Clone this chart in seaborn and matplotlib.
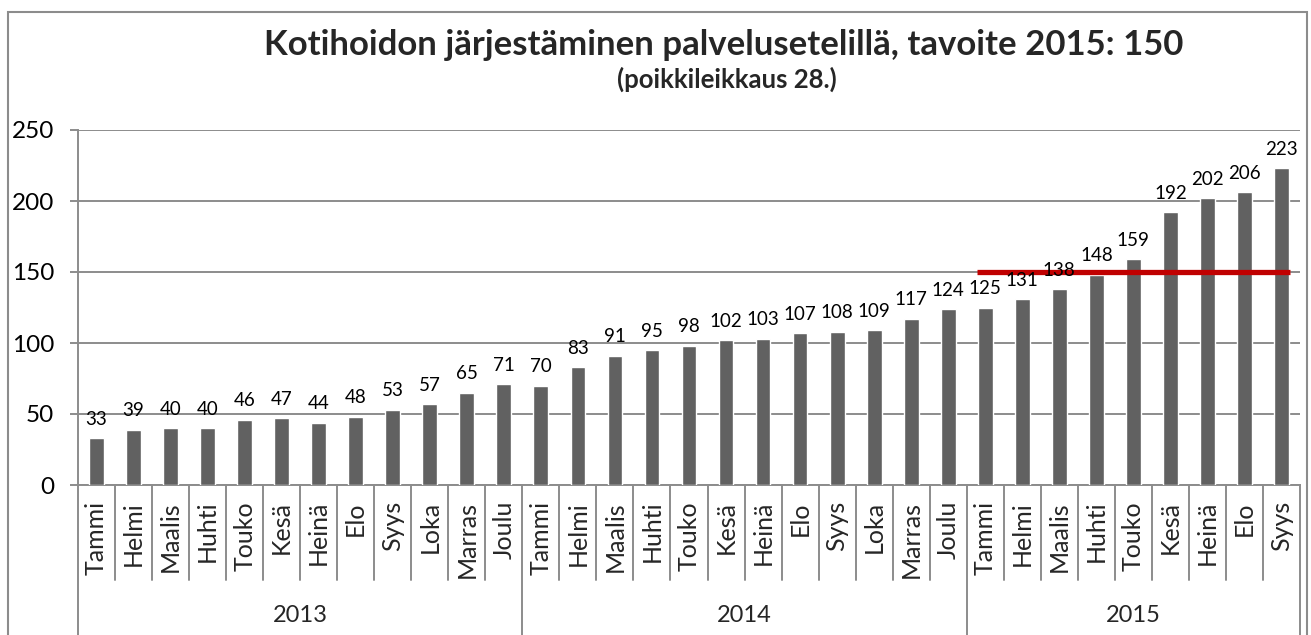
import matplotlib
matplotlib.use("Agg")
import matplotlib.pyplot as plt
import matplotlib.transforms as mtransforms
from matplotlib.patches import Rectangle
import seaborn as sns
import pandas as pd

years = ["2013", "2014", "2015"]
months_2013 = ["Tammi", "Helmi", "Maalis", "Huhti", "Touko", "Kesä", "Heinä", "Elo", "Syys", "Loka", "Marras", "Joulu"]
months_2014 = ["Tammi", "Helmi", "Maalis", "Huhti", "Touko", "Kesä", "Heinä", "Elo", "Syys", "Loka", "Marras", "Joulu"]
months_2015 = ["Tammi", "Helmi", "Maalis", "Huhti", "Touko", "Kesä", "Heinä", "Elo", "Syys"]
values_2013 = [33, 39, 40, 40, 46, 47, 44, 48, 53, 57, 65, 71]
values_2014 = [70, 83, 91, 95, 98, 102, 103, 107, 108, 109, 117, 124]
values_2015 = [125, 131, 138, 148, 159, 192, 202, 206, 223]
target_2015 = 150
title = "Kotihoidon järjestäminen palvelusetelillä, tavoite 2015: 150"
subtitle = "(poikkileikkaus 28.)"

month_groups = [months_2013, months_2014, months_2015]
value_groups = [values_2013, values_2014, values_2015]
rows = []
for yr, ms, vs in zip(years, month_groups, value_groups):
    for m, v in zip(ms, vs):
        rows.append({"year": yr, "month": m, "key": f"{yr}-{m}", "value": v})
df = pd.DataFrame(rows)

sns.set_theme(style="white")
plt.rcParams["font.family"] = ["Lato", "DejaVu Sans"]

W, H = 1311, 635
fig = plt.figure(figsize=(W / 100, H / 100), dpi=100)
ax_l, ax_r, ax_t, ax_b = 78, 1300, 130, 485
ax = fig.add_axes([ax_l / W, (H - ax_b) / H, (ax_r - ax_l) / W, (ax_b - ax_t) / H])

bar_color = "#616161"
grid_color = "#8c8c8c"
axis_fs = 18

sns.barplot(data=df, x="key", y="value", color=bar_color, width=0.4,
            saturation=1, ax=ax, zorder=3)

n = len(df)
ax.set_xlim(-0.5, n - 0.5)
ax.set_ylim(0, 250)
ax.set_yticks([0, 50, 100, 150, 200, 250])
ax.yaxis.grid(True, color=grid_color, linewidth=1.4, zorder=0)
ax.set_axisbelow(True)
for s in ["top", "right"]:
    ax.spines[s].set_visible(False)
for s in ["left", "bottom"]:
    ax.spines[s].set_color(grid_color)
    ax.spines[s].set_linewidth(1.4)
ax.tick_params(axis="y", which="major", left=True, length=6, width=1.4,
               color=grid_color, labelsize=17.5, pad=11, labelcolor="black")
ax.set_xticks([])
ax.set_xlabel("")
ax.set_ylabel("")

# value labels above each bar
for i, v in enumerate(df["value"]):
    ax.annotate(str(v), (i, v), xytext=(0, 7.5), textcoords="offset points",
                ha="center", va="bottom", fontsize=13.5, color="black", zorder=5)

# 2015 target line, running slightly past the first and last bar centres
idx_2015 = df.index[df["year"] == "2015"]
pad = 0.22
sns.lineplot(x=[idx_2015[0] - pad, idx_2015[-1] + pad],
             y=[target_2015, target_2015],
             color="#c00000", linewidth=3.8, ax=ax, zorder=4,
             solid_capstyle="butt")

# grouped category axis: months and years
trans = mtransforms.blended_transform_factory(ax.transData, ax.transAxes)
axh = ax_b - ax_t
month_bottom = -(580 - ax_b) / axh
fig_bottom = -(H - ax_b) / axh
month_top = -(501 - ax_b) / axh
year_y = -(615 - ax_b) / axh
sep_kw = dict(color=grid_color, linewidth=1.4, transform=trans, clip_on=False)
for i in range(n + 1):
    x = i - 0.5
    is_year_edge = i == 0 or i == n or i in (12, 24)
    ax.plot([x, x], [0, fig_bottom if is_year_edge else month_bottom], **sep_kw)
for i, m in enumerate(df["month"]):
    ax.text(i, month_top, m, rotation=90, ha="center", va="top", fontsize=axis_fs,
            transform=trans, clip_on=False)
start = 0
for yr, vs in zip(years, value_groups):
    end = start + len(vs)
    ax.text((start + end - 1) / 2, year_y, yr, ha="center", va="center",
            fontsize=17, transform=trans, clip_on=False)
    start = end

# titles
fig.text(724 / W, 1 - 45 / H, title, ha="center", va="center",
         fontsize=25, fontweight="bold")
fig.text(727 / W, 1 - 79 / H, subtitle, ha="center", va="center",
         fontsize=18.5, fontweight="bold")

# chart area frame
fig.patches.append(Rectangle((8 / W, -0.01), (1307 - 8) / W, (H - 12) / H + 0.01,
                             transform=fig.transFigure, fill=False,
                             edgecolor="#8c8c8c", linewidth=1.5))

fig.savefig("out.png", dpi=100)
